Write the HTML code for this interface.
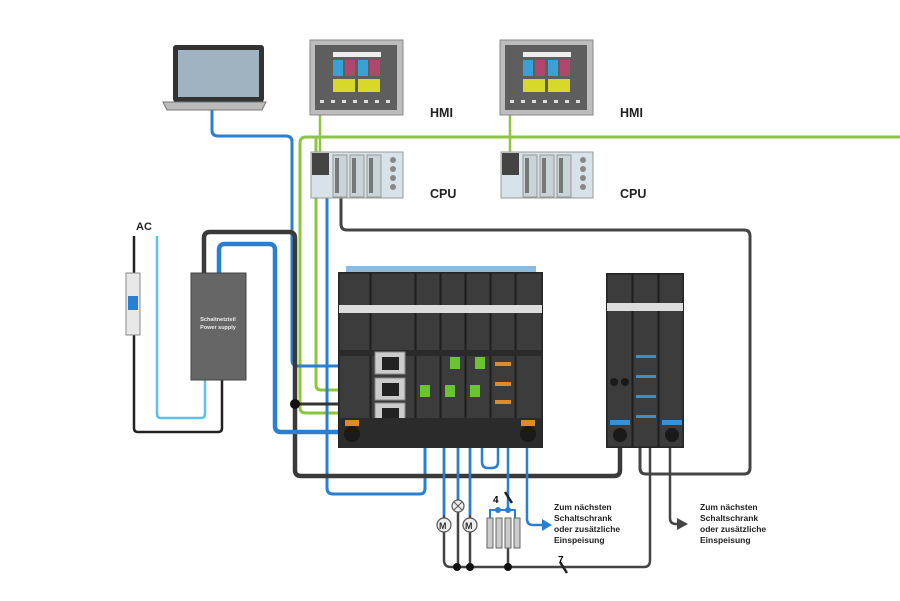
<!DOCTYPE html><html><head><meta charset="utf-8"><style>body{margin:0;background:#fff}svg{display:block}text{font-family:"Liberation Sans",sans-serif;font-weight:bold}</style></head><body>
<svg width="900" height="601" viewBox="0 0 900 601" xmlns="http://www.w3.org/2000/svg">
<rect width="900" height="601" fill="#fff"/>
<g fill="none" stroke-linejoin="round">
<path d="M900 137 H306 Q300 137 300 143 V408 Q300 413 306 413 H375" stroke="#8cc63f" stroke-width="3"/>
<path d="M316 137 V385 Q316 390 321 390 H375" stroke="#8cc63f" stroke-width="3"/>
<path d="M320 115 V155 M510 115 V155" stroke="#8cc63f" stroke-width="2.5"/>
<path d="M212 110 V130 Q212 136 218 136 H286 Q292 136 292 142 V360 Q292 366 298 366 H380" stroke="#2a7fd0" stroke-width="3"/>
<path d="M327 198 V488 Q327 494 333 494 H420 Q425 494 425 488 V440" stroke="#2a7fd0" stroke-width="3"/>
<path d="M341 198 V224 Q341 230 347 230 H744 Q750 230 750 236 V468 Q750 474 744 474 H646 Q640 474 640 468 V440" stroke="#444" stroke-width="3"/>
<path d="M670 440 V518 Q670 524 676 524 H677" stroke="#444" stroke-width="2.5"/>
<path d="M204 273 V238 Q204 232 210 232 H289 Q295 232 295 238 V470 Q295 476 301 476 H614 Q620 476 620 470 V440" stroke="#3a3a3a" stroke-width="4.5"/>
<path d="M295 404 H350" stroke="#333" stroke-width="3"/>
<circle cx="295" cy="404" r="5" fill="#111"/>
<path d="M219 273 V250 Q219 244 225 244 H269 Q275 244 275 250 V426 Q275 432 281 432 H350" stroke="#2a7fd0" stroke-width="4.5"/>
<path d="M134 236 V428 Q134 432 138 432 H218 Q222 432 222 428 V380" stroke="#222" stroke-width="2.5"/>
<path d="M157 236 V414 Q157 418 161 418 H201 Q205 418 205 414 V380" stroke="#5bc0eb" stroke-width="2.5"/>
<path d="M444 440 V560 Q444 567 451 567 H644 Q650 567 650 560 V440" stroke="#444" stroke-width="2.5"/>
<path d="M458 440 V567 M470 440 V567 M508 540 V567" stroke="#444" stroke-width="2.5"/>
<path d="M444 440 V515 M458 440 V500 M470 440 V515 M508 440 V510" stroke="#2a7fd0" stroke-width="2.5"/>
<path d="M482 440 V462 Q482 468 488 468 H492 Q498 468 498 462 V440" stroke="#2a7fd0" stroke-width="2.5"/>
<path d="M527 440 V519 Q527 525 533 525 H542" stroke="#2a7fd0" stroke-width="2.5"/>
<path d="M490 520 V510 H515 V520" stroke="#2a7fd0" stroke-width="2"/>
<path d="M505 492 L512 503 M560 562 L567 573" stroke="#222" stroke-width="2.5"/>
</g>
<polygon points="542,519 552,525 542,531" fill="#2a7fd0"/>
<polygon points="677,518 688,524 677,530" fill="#444"/>
<g fill="#111"><circle cx="457" cy="567" r="4"/><circle cx="470" cy="567" r="4"/><circle cx="508" cy="567" r="4"/><circle cx="508" cy="510" r="3" fill="#2a7fd0"/><circle cx="498" cy="510" r="3" fill="#2a7fd0"/></g>
<g stroke="#555" stroke-width="1.2" fill="#eee"><circle cx="444" cy="525" r="7"/><circle cx="470" cy="525" r="7"/><circle cx="458" cy="506" r="6"/></g>
<text x="439" y="529" font-size="9" font-weight="normal" fill="#333">M</text><text x="465" y="529" font-size="9" font-weight="normal" fill="#333">M</text>
<path d="M454 502 L462 510 M462 502 L454 510" stroke="#555"/>
<g fill="#ccc" stroke="#666"><rect x="487" y="518" width="6" height="30"/><rect x="496" y="518" width="6" height="30"/><rect x="505" y="518" width="6" height="30"/><rect x="514" y="518" width="6" height="30"/></g>
<text x="493" y="503" font-size="10">4</text><text x="558" y="563" font-size="10">7</text>
<g font-size="8.5" fill="#222"><text x="554" y="510">Zum nächsten</text><text x="554" y="521">Schaltschrank</text><text x="554" y="532">oder zusätzliche</text><text x="554" y="543">Einspeisung</text>
<text x="700" y="510">Zum nächsten</text><text x="700" y="521">Schaltschrank</text><text x="700" y="532">oder zusätzliche</text><text x="700" y="543">Einspeisung</text></g>
<rect x="173" y="45" width="91" height="57" rx="3" fill="#333"/><rect x="178" y="50" width="81" height="47" fill="#9fb4c0"/>
<path d="M163 102 H266 L262 110 H167 Z" fill="#bbb" stroke="#777"/>
<g id="h"><rect x="310" y="40" width="93" height="75" fill="#bdbdbd" stroke="#888"/><rect x="315" y="45" width="82" height="65" fill="#5e5e5e"/>
<rect x="333" y="52" width="48" height="5" fill="#eee"/><rect x="333" y="60" width="10" height="16" fill="#3aa0d8"/><rect x="345" y="60" width="10" height="16" fill="#b0476e"/><rect x="358" y="60" width="10" height="16" fill="#3aa0d8"/><rect x="370" y="60" width="10" height="16" fill="#b0476e"/><rect x="333" y="79" width="22" height="13" fill="#d8d82a"/><rect x="358" y="79" width="22" height="13" fill="#d8d82a"/>
<g fill="#ddd"><rect x="320" y="100" width="4" height="3"/><rect x="331" y="100" width="4" height="3"/><rect x="342" y="100" width="4" height="3"/><rect x="353" y="100" width="4" height="3"/><rect x="364" y="100" width="4" height="3"/><rect x="375" y="100" width="4" height="3"/><rect x="386" y="100" width="4" height="3"/></g>
<rect x="311" y="152" width="92" height="46" fill="#d7e3e8" stroke="#999"/><rect x="312" y="153" width="17" height="22" fill="#444"/>
<rect x="333" y="155" width="14" height="42" fill="#c8d4d8" stroke="#999"/><rect x="350" y="155" width="14" height="42" fill="#c8d4d8" stroke="#999"/><rect x="367" y="155" width="14" height="42" fill="#c8d4d8" stroke="#999"/><rect x="335" y="158" width="4" height="35" fill="#777"/><rect x="352" y="158" width="4" height="35" fill="#777"/><rect x="369" y="158" width="4" height="35" fill="#777"/>
<g fill="#888"><circle cx="393" cy="160" r="3"/><circle cx="393" cy="169" r="3"/><circle cx="393" cy="178" r="3"/><circle cx="393" cy="187" r="3"/></g></g>
<use href="#h" x="190"/>
<g font-size="12.5" fill="#222"><text x="430" y="117">HMI</text><text x="620" y="117">HMI</text><text x="430" y="198">CPU</text><text x="620" y="198">CPU</text><text x="136" y="230" font-size="11">AC</text></g>
<rect x="126" y="273" width="14" height="62" fill="#e8e8e8" stroke="#888"/><rect x="128" y="296" width="10" height="14" fill="#2a7fd0"/>
<rect x="191" y="273" width="55" height="107" fill="#666" stroke="#444"/>
<text x="218" y="321" font-size="5.5" fill="#eee" text-anchor="middle">Schaltnetzteil</text><text x="218" y="329" font-size="5.5" fill="#eee" text-anchor="middle">Power supply</text>
<rect x="338" y="272" width="205" height="176" fill="#2f2f2f"/>
<g fill="#3c3c3c" stroke="#1e1e1e"><rect x="339" y="273" width="31" height="174"/><rect x="371" y="273" width="44" height="174"/><rect x="416" y="273" width="24" height="174"/><rect x="441" y="273" width="24" height="174"/><rect x="466" y="273" width="24" height="174"/><rect x="491" y="273" width="24" height="174"/><rect x="516" y="273" width="26" height="174"/></g>
<rect x="339" y="305" width="203" height="8" fill="#ddd"/>
<rect x="339" y="350" width="203" height="6" fill="#2a2a2a"/>
<g fill="#ccc" stroke="#888"><rect x="375" y="352" width="30" height="22"/><rect x="375" y="378" width="30" height="22"/><rect x="375" y="403" width="30" height="22"/></g>
<g fill="#222"><rect x="382" y="357" width="17" height="13"/><rect x="382" y="383" width="17" height="13"/><rect x="382" y="408" width="17" height="13"/></g>
<g fill="#6ac330"><rect x="420" y="385" width="10" height="12"/><rect x="445" y="385" width="10" height="12"/><rect x="470" y="385" width="10" height="12"/><rect x="450" y="357" width="10" height="12"/><rect x="475" y="357" width="10" height="12"/></g>
<rect x="339" y="418" width="203" height="30" fill="#2b2b2b"/>
<g fill="#e08a2a"><rect x="345" y="420" width="14" height="6"/><rect x="521" y="420" width="14" height="6"/><rect x="495" y="362" width="16" height="4"/><rect x="495" y="382" width="16" height="4"/><rect x="495" y="400" width="16" height="4"/></g>
<g fill="#1a1a1a"><circle cx="352" cy="434" r="8"/><circle cx="528" cy="434" r="8"/></g>
<rect x="346" y="266" width="190" height="6" fill="#3a8fd0" opacity=".6"/>
<rect x="606" y="273" width="78" height="175" fill="#2f2f2f"/>
<g fill="#3c3c3c" stroke="#1e1e1e"><rect x="607" y="274" width="25" height="173"/><rect x="633" y="274" width="25" height="173"/><rect x="659" y="274" width="24" height="173"/></g>
<rect x="607" y="303" width="76" height="8" fill="#ddd"/>
<g fill="#3a8fd0"><rect x="610" y="420" width="20" height="5"/><rect x="662" y="420" width="20" height="5"/><rect x="636" y="355" width="20" height="3"/><rect x="636" y="375" width="20" height="3"/><rect x="636" y="395" width="20" height="3"/><rect x="636" y="415" width="20" height="3"/></g>
<g fill="#1a1a1a"><circle cx="620" cy="435" r="7"/><circle cx="672" cy="435" r="7"/><circle cx="614" cy="382" r="4"/><circle cx="625" cy="382" r="4"/></g>
</svg></body></html>
